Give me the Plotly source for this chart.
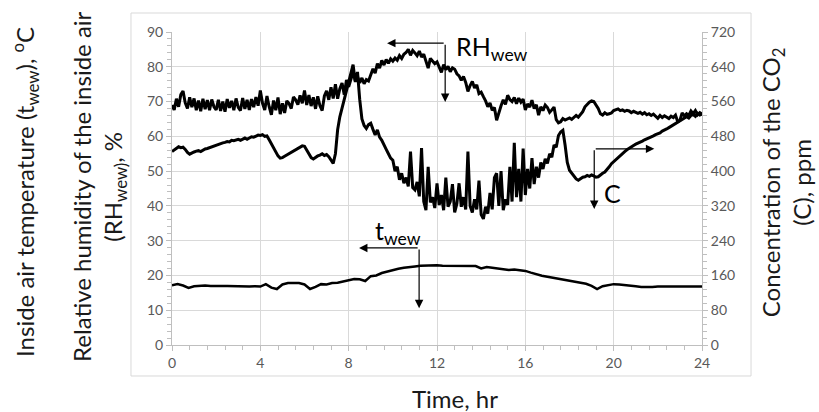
import plotly.graph_objects as go

# Sampling time for humidity and CO2 (0.1 h steps), hours
hours = [round(i * 0.1, 1) for i in range(241)]

# Relative humidity of the inside air, %
rh_wew = [
    69.0, 67.6, 70.8, 68.5, 72.0, 73.0, 69.6, 68.0, 71.2, 68.4,
    70.9, 67.5, 70.3, 67.2, 70.8, 67.8, 70.4, 67.5, 70.6, 68.5,
    67.6, 70.5, 67.3, 70.0, 67.1, 70.7, 68.2, 70.2, 67.5, 70.9,
    68.3, 67.4, 71.0, 67.9, 70.5, 67.6, 70.7, 68.4, 71.3, 68.8,
    73.2, 69.5, 67.6, 71.6, 68.5, 66.2, 70.3, 67.5, 71.2, 66.4,
    69.5, 66.7, 70.2, 69.4, 68.0, 71.3, 70.5, 69.1, 71.8, 69.5,
    73.2, 69.0, 71.9, 68.7, 71.2, 67.9, 71.5, 68.8, 67.4, 71.6,
    73.1, 70.5, 74.1, 70.9, 75.0, 70.8, 73.7, 75.3, 72.0, 76.2,
    74.2, 76.3, 78.5, 76.0, 77.2, 75.4, 76.8, 75.1, 76.3, 75.9,
    77.8, 79.4, 78.2, 80.9, 79.6, 81.8, 80.5, 82.1, 81.0, 82.3,
    81.6, 82.5, 81.9, 83.2, 82.4, 83.6, 84.1, 85.0, 83.3, 84.7,
    84.0, 83.2, 84.5, 82.8, 83.6, 81.9, 79.6, 82.4, 81.5, 80.9,
    81.4, 79.8, 78.4, 80.6, 79.2, 80.1, 78.6, 79.7, 79.3, 78.0,
    77.4, 76.1, 77.2, 75.5, 72.9, 74.6, 75.8, 73.9, 74.8, 72.3,
    72.7, 71.4, 70.2, 68.5, 69.6, 67.5, 68.3, 64.6, 66.9, 68.8,
    70.5, 69.2, 71.8, 70.6, 70.0, 71.2, 69.4, 71.0, 69.8, 70.7,
    67.6, 69.3, 68.4, 70.4, 68.0, 69.1, 66.1, 68.5, 67.4, 69.0,
    68.3, 66.9, 67.6, 68.4, 64.8, 63.9, 64.2, 65.1, 64.7, 65.0,
    65.3, 64.9, 65.6, 66.0, 65.5, 66.3, 67.1, 68.5, 69.2, 69.8,
    70.2, 70.0, 69.0, 68.0, 66.5, 66.1, 66.8, 66.3, 66.5, 66.7,
    67.4, 67.6, 67.9, 67.4, 67.6, 67.2, 67.5, 67.3, 66.8, 67.2,
    66.9, 66.6, 66.9, 66.4, 66.8, 66.2, 66.5, 66.0, 66.4, 65.8,
    65.2, 66.0, 65.4, 65.9, 65.6, 65.1, 65.8, 65.4, 66.1, 64.2,
    64.6, 66.7, 65.9, 66.5, 66.0, 67.3, 66.5, 67.4, 66.2, 66.8,
    66.4,
]

# CO2 concentration of the inside air, ppm
co2_ppm = [
    445, 448, 452, 456, 454, 455, 450, 443, 439, 442,
    444, 446, 447, 445, 449, 451, 452, 454, 455, 458,
    460, 462, 463, 465, 466, 468, 467, 471, 470, 472,
    473, 471, 474, 476, 473, 477, 479, 478, 481, 483,
    482, 484, 480, 481, 472, 462, 453, 444, 435, 430,
    431, 434, 437, 440, 443, 447, 450, 453, 456, 458,
    457, 448, 438, 431, 428, 432, 435, 437, 440, 436,
    438, 433, 426, 418, 440, 495, 525, 545, 560, 580,
    600, 625, 645, 605, 628, 565, 520, 505, 498, 507,
    510, 496, 483, 495, 478, 471, 462, 450, 440, 430,
    425, 400, 410, 380, 395, 372, 385, 365, 445, 362,
    357, 375, 342, 453, 330, 310, 410, 328, 340, 315,
    372, 322, 345, 310, 385, 318, 330, 370, 305, 325,
    372, 318, 340, 312, 445, 320, 305, 335, 312, 378,
    300, 290, 318, 302, 350, 312, 385, 395, 320, 400,
    310, 335, 322, 410, 330, 465, 340, 405, 330, 452,
    345, 405, 360, 430, 370, 410, 385, 420, 405, 428,
    418, 440, 432, 460, 455, 482, 490, 494, 460, 420,
    402, 395, 388, 382, 379, 383, 386, 387, 390, 388,
    391, 389, 386, 387, 392, 395, 398, 403, 410, 417,
    422, 427, 432, 436, 441, 445, 449, 453, 456, 459,
    462, 464, 467, 469, 472, 474, 476, 478, 481, 484,
    486, 488, 492, 494, 497, 500, 503, 506, 510, 514,
    517, 519, 523, 525, 522, 528, 530, 526, 533, 529,
    531,
]

# Inside air temperature, sampled every 0.25 h
t_hours = [i * 0.25 for i in range(97)]
t_wew = [
    17.2, 17.5, 17.1, 16.4, 16.9, 17.1, 17.1, 17.0,
    17.1, 17.0, 17.0, 16.9, 17.0, 16.9, 16.8, 16.9,
    16.8, 17.5, 16.5, 16.1, 17.4, 17.8, 17.9, 17.8,
    17.4, 16.1, 16.7, 17.5, 17.4, 17.8, 17.9, 18.3,
    18.8, 19.0, 18.9, 18.4, 19.8, 20.0, 20.7, 21.1,
    21.7, 21.9, 22.2, 22.3, 22.6, 22.8, 22.9, 22.9,
    22.9, 22.8, 22.8, 22.7, 22.8, 22.7, 22.7, 22.7,
    22.0, 22.4, 22.2, 22.0, 21.9, 21.6, 21.7, 21.5,
    21.3, 20.8, 20.3, 19.9, 19.6, 19.3, 19.1, 18.8,
    18.6, 18.3, 18.0, 17.6, 17.0, 16.1, 16.9, 17.3,
    17.5, 17.4, 17.3, 17.1, 16.9, 16.7, 16.6, 16.7,
    16.8, 16.8, 16.9, 17.0, 16.9, 16.8, 16.9, 16.8,
    16.8,
]

FONT = "Lato"
TICK_COLOR = "#595959"
AXIS_COLOR = "#bfbfbf"
GRID_COLOR = "#d9d9d9"

fig = go.Figure()
fig.add_trace(go.Scatter(x=hours, y=rh_wew, mode="lines",
                         line=dict(color="black", width=3), yaxis="y"))
fig.add_trace(go.Scatter(x=hours, y=co2_ppm, mode="lines",
                         line=dict(color="black", width=3), yaxis="y2"))
fig.add_trace(go.Scatter(x=t_hours, y=t_wew, mode="lines",
                         line=dict(color="black", width=2.5), yaxis="y"))

tickfont = dict(family=FONT, size=14, color=TICK_COLOR)

fig.update_layout(
    width=819, height=412,
    margin=dict(l=172, r=117, t=32, b=67),
    paper_bgcolor="white", plot_bgcolor="white",
    showlegend=False,
    xaxis=dict(
        range=[0, 24], tick0=0, dtick=4,
        showgrid=True, gridcolor=GRID_COLOR, gridwidth=1,
        showline=True, linecolor=AXIS_COLOR, linewidth=1,
        ticks="outside", ticklen=5, tickcolor=AXIS_COLOR,
        minor=dict(tick0=0, dtick=0.8, ticks="outside", ticklen=4,
                   tickcolor=AXIS_COLOR, showgrid=False),
        zeroline=False, tickfont=tickfont,
    ),
    yaxis=dict(
        range=[0, 90], tick0=0, dtick=10,
        showgrid=True, gridcolor=GRID_COLOR, gridwidth=1,
        showline=True, linecolor=AXIS_COLOR, linewidth=1,
        ticks="outside", ticklen=5, tickcolor=AXIS_COLOR,
        minor=dict(tick0=0, dtick=2, ticks="outside", ticklen=4,
                   tickcolor=AXIS_COLOR, showgrid=False),
        zeroline=False, tickfont=tickfont,
    ),
    yaxis2=dict(
        range=[0, 720], tick0=0, dtick=80, overlaying="y", side="right",
        showgrid=False,
        showline=True, linecolor=AXIS_COLOR, linewidth=1,
        ticks="outside", ticklen=5, tickcolor=AXIS_COLOR,
        minor=dict(tick0=0, dtick=16, ticks="outside", ticklen=4,
                   tickcolor=AXIS_COLOR),
        zeroline=False, tickfont=tickfont,
    ),
)

# Chart-area frame
fig.add_shape(type="rect", xref="paper", yref="paper",
              x0=-0.0774, x1=1.0925, y0=-0.099, y1=1.0607,
              line=dict(color=GRID_COLOR, width=1), layer="below")

title_font = dict(family=FONT, size=24, color="#1a1a1a")

# Axis titles
fig.add_annotation(text="Inside air temperature (t<sub>wew</sub>), <sup>o</sup>C",
                   xref="paper", yref="paper", x=(25 - 172) / 530, y=0.489,
                   xanchor="center", yanchor="middle",
                   textangle=-90, showarrow=False, font=title_font)
fig.add_annotation(text="Relative humidity of the inside air<br>(RH<sub>wew)</sub>, %",
                   xref="paper", yref="paper", x=(99 - 172) / 530, y=0.505,
                   xanchor="center", yanchor="middle",
                   textangle=-90, showarrow=False, font=title_font)
fig.add_annotation(text="Concentration of the CO<sub>2</sub><br>(C), ppm",
                   xref="paper", yref="paper", x=(786 - 172) / 530, y=0.52,
                   xanchor="center", yanchor="middle",
                   textangle=-90, showarrow=False, font=title_font)
fig.add_annotation(text="Time, hr", xref="paper", yref="paper",
                   x=(455 - 172) / 530, y=(345 - 398) / 313,
                   xanchor="center", yanchor="middle",
                   showarrow=False, font=title_font)

# Series labels with bracket arrows (corner, horizontal tip, vertical tip)
brackets = [
    ((12.37, 86.8), (9.74, 86.8), (12.37, 69.9)),
    ((11.19, 27.9), (8.47, 27.9), (11.19, 10.6)),
    ((19.12, 56.4), (21.84, 56.4), (19.12, 39.1)),
]
for corner, htip, vtip in brackets:
    for tip in (htip, vtip):
        fig.add_annotation(x=tip[0], y=tip[1], ax=corner[0], ay=corner[1],
                           xref="x", yref="y", axref="x", ayref="y",
                           text="", showarrow=True, arrowhead=2,
                           arrowsize=1.4, arrowwidth=1.2, arrowcolor="black")

label_font = dict(family=FONT, size=25, color="black")
fig.add_annotation(text="RH<sub>wew</sub>", x=12.75, y=85.5, xref="x", yref="y",
                   xanchor="left", yanchor="middle", showarrow=False, font=label_font)
fig.add_annotation(text="t<sub>wew</sub>", x=9.1, y=32.5, xref="x", yref="y",
                   xanchor="left", yanchor="middle", showarrow=False, font=label_font)
fig.add_annotation(text="C", x=19.45, y=43.7, xref="x", yref="y",
                   xanchor="left", yanchor="middle", showarrow=False, font=label_font)

fig.write_html("out.html")
